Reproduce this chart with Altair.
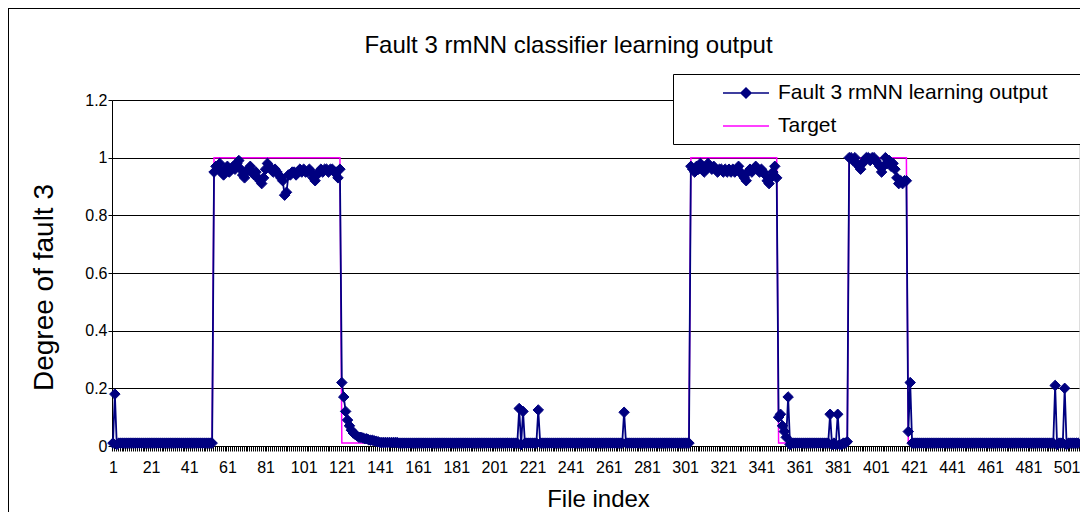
import altair as alt
import pandas as pd

FONT = "Liberation Sans"

# ---- data (file index 1 .. 507) ----
seg_low_a = [0.01, 0.18, 0.005] + [0.01] * 50                      # 1-53
seg_high_1 = [0.95, 0.97, 0.96, 0.98, 0.95, 0.94, 0.96, 0.97, 0.95, 0.96,
              0.97, 0.96, 0.98, 0.99, 0.96, 0.94, 0.93, 0.95, 0.96, 0.97,
              0.95, 0.94, 0.95, 0.93, 0.92, 0.91, 0.93, 0.96, 0.98, 0.97,
              0.96, 0.95, 0.96, 0.95, 0.94, 0.93, 0.92, 0.87, 0.88, 0.94,
              0.94, 0.95, 0.95, 0.94, 0.95, 0.96, 0.95, 0.96, 0.95, 0.95,
              0.96, 0.95, 0.93, 0.92, 0.94, 0.95, 0.96, 0.95, 0.96, 0.96,
              0.95, 0.96, 0.96, 0.95, 0.95, 0.93, 0.96]                # 54-120
seg_low_b = ([0.22, 0.17, 0.12, 0.09, 0.07, 0.055, 0.045, 0.04, 0.035, 0.03,
              0.03, 0.028, 0.025, 0.025, 0.022, 0.02, 0.02, 0.018, 0.016, 0.015]
             + [0.012] * 10 + [0.01] * 63                               # 121-213
             + [0.13, 0.005, 0.12] + [0.01] * 7 + [0.125]               # 214-224
             + [0.01] * 44 + [0.117] + [0.01] * 34)                     # 225-303
seg_high_2 = [0.97, 0.96, 0.95, 0.97, 0.96, 0.98, 0.97, 0.95, 0.96, 0.98,
              0.97, 0.96, 0.97, 0.96, 0.95, 0.96, 0.96, 0.95, 0.96, 0.95,
              0.96, 0.95, 0.96, 0.95, 0.96, 0.97, 0.95, 0.94, 0.93, 0.92,
              0.95, 0.96, 0.95, 0.96, 0.97, 0.96, 0.95, 0.96, 0.95, 0.94,
              0.92, 0.91, 0.93, 0.95, 0.97, 0.93]                      # 304-349
seg_low_c = ([0.10, 0.11, 0.07, 0.05, 0.03, 0.17, 0.005] + [0.01] * 20
             + [0.11, 0.005, 0.01, 0.005, 0.11, 0.005, 0.005, 0.01, 0.01, 0.015])  # 350-386
seg_high_3 = [1.00, 1.00, 0.99, 1.00, 0.98, 0.97, 0.96, 0.98, 0.99, 1.00,
              1.00, 0.99, 1.00, 1.00, 0.99, 0.98, 0.97, 0.95, 0.97, 1.00,
              0.98, 0.99, 0.97, 0.98, 0.96, 0.93, 0.91, 0.92, 0.91, 0.92, 0.92]  # 387-417
seg_low_d = ([0.05, 0.22] + [0.01] * 75 + [0.21, 0.005] + [0.01] * 3
             + [0.20, 0.005] + [0.01] * 6)                              # 418-507

output_values = seg_low_a + seg_high_1 + seg_low_b + seg_high_2 + seg_low_c + seg_high_3 + seg_low_d
target_values = ([0.01] * 53 + [1.0] * 67 + [0.01] * 183 + [1.0] * 46
                 + [0.01] * 37 + [1.0] * 31 + [0.01] * 90)
file_index = list(range(1, len(output_values) + 1))

series_names = ["Fault 3 rmNN learning output", "Target"]
series_colors = ["#000080", "#FF00FF"]
y_ticks = [0, 0.2, 0.4, 0.6, 0.8, 1.0, 1.2]
x_label_values = list(range(1, 502, 20))
n = len(file_index)
x_tick_values = [i + 0.5 for i in range(0, n + 1)]

df = pd.DataFrame({
    "index": file_index * 2,
    "value": output_values + target_values,
    "series": [series_names[0]] * n + [series_names[1]] * len(target_values),
})

x_enc = alt.X(
    "index:Q",
    scale=alt.Scale(domain=[0.5, n + 0.5], nice=False, zero=False),
    axis=alt.Axis(
        values=x_tick_values + x_label_values,
        labelExpr="datum.value % 1 == 0 ? format(datum.value, 'd') : ''",
        tickOpacity={"condition": {"test": "datum.value % 1 == 0", "value": 0}, "value": 1},
        tickSize=5, tickColor="black", domainColor="black", grid=False,
        labelOverlap=False, labelBound=False, labelFlush=False,
        labelFontSize=16, labelFont=FONT, labelColor="black", labelPadding=8,
        title="File index", titleFontSize=24, titleFont=FONT, titleFontWeight="normal",
        titleColor="black", titlePadding=12, titleX=486,
    ),
)
y_enc = alt.Y(
    "value:Q",
    scale=alt.Scale(domain=[0, 1.2], nice=False),
    axis=alt.Axis(
        values=y_ticks, format="~g", grid=True, gridColor="black", gridWidth=1,
        domainColor="black", tickColor="black", tickSize=4,
        labelFontSize=16, labelFont=FONT, labelColor="black", labelPadding=1,
        title="Degree of fault 3", titleFontSize=28, titleFont=FONT,
        titleFontWeight="normal", titleColor="black", titlePadding=26, titleY=187,
    ),
)

# thin frame of the chart area (decoration, clipped by the page edge on right/bottom)
frame = alt.Chart(df).mark_rect(
    fillOpacity=0, stroke="black", strokeWidth=1
).encode(
    x=alt.value(-103.5), x2=alt.value(1200), y=alt.value(-91.5), y2=alt.value(600)
)

target_line = alt.Chart(df).transform_filter(
    alt.datum.series == series_names[1]
).mark_line(strokeWidth=1.5, color=series_colors[1]).encode(x=x_enc, y=y_enc)

output_line = alt.Chart(df).transform_filter(
    alt.datum.series == series_names[0]
).mark_line(strokeWidth=1.8, color=series_colors[0]).encode(x=x_enc, y=y_enc)

output_points = alt.Chart(df).transform_filter(
    alt.datum.series == series_names[0]
).mark_point(filled=True, shape="diamond", size=110, opacity=1,
             color=series_colors[0], stroke=series_colors[0], strokeWidth=1).encode(x=x_enc, y=y_enc)

legend_shapes = ["M-2.3,0H2.3M0,-0.5L0.5,0L0,0.5L-0.5,0Z", "M-2.3,0H2.3"]
leg = alt.Legend(
    title=None, orient="none", legendX=561, legendY=-26,
    symbolSize=400, symbolStrokeWidth=1.5, symbolOffset=54, labelOffset=21,
    labelFontSize=21, labelFont=FONT, labelColor="black", labelLimit=700,
    labelExpr="datum.label + '\u2800\u2800'",
    rowPadding=12, padding=8, strokeColor="black", fillColor="white",
)
legend_layer = alt.Chart(df).mark_point(filled=True, opacity=1).encode(
    x=x_enc, y=y_enc,
    fill=alt.Fill("series:N", scale=alt.Scale(domain=series_names, range=series_colors), legend=leg),
    stroke=alt.Stroke("series:N", scale=alt.Scale(domain=series_names, range=series_colors), legend=leg),
    shape=alt.Shape("series:N", scale=alt.Scale(domain=series_names, range=legend_shapes), legend=leg),
    size=alt.value(0),
)

chart = alt.layer(frame, target_line, output_line, output_points, legend_layer).properties(
    width=967, height=346,
    autosize=alt.AutoSizeParams(type="none"),
    padding={"left": 104, "top": 92, "right": 1, "bottom": 66},
    title=alt.TitleParams(
        "Fault 3 rmNN classifier learning output", fontSize=24, font=FONT,
        fontWeight="normal", color="black", anchor="middle", dx=-27, dy=66, offset=16,
    ),
).configure_view(stroke="#808080", strokeWidth=1).configure(background="white")

chart.save("out.html", embed_options={"renderer": "svg", "actions": False})
